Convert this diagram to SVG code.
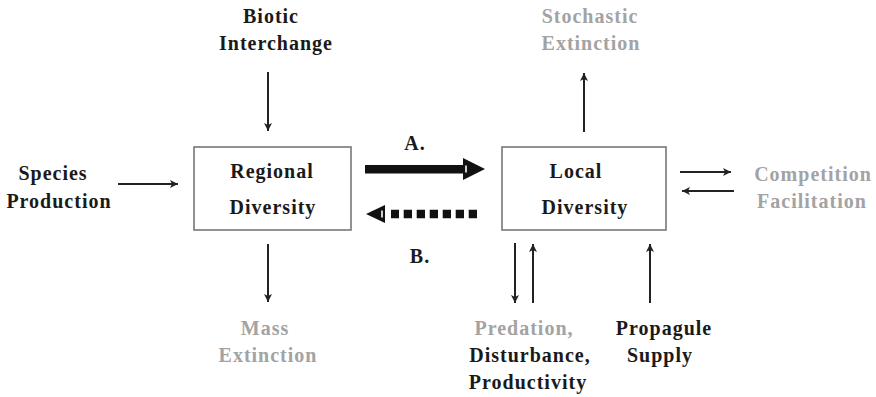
<svg xmlns="http://www.w3.org/2000/svg" width="876" height="397" viewBox="0 0 876 397" font-family="Liberation Serif, serif" font-weight="bold" font-size="20">
  <style>
    .t { letter-spacing: 1px; text-anchor: middle; }
    .dark { fill: #1a1a1a; }
    .pale { fill: #a3a3a3; }
    .box { fill: #ffffff; stroke: #777777; stroke-width: 1.6; }
    .thin { stroke: #222222; stroke-width: 2; fill: none; }
  </style>
  <defs>
    <marker id="head" markerUnits="userSpaceOnUse" markerWidth="10" markerHeight="10" refX="8" refY="4" orient="auto">
      <path d="M0,0 L8,4 L0,8 L2,4 Z" fill="#222222"/>
    </marker>
  </defs>
  <rect width="876" height="397" fill="#ffffff"/>

  <!-- connectors -->
  <g id="connectors">
    <line class="thin" x1="268" y1="72" x2="268" y2="131" marker-end="url(#head)"/>
    <line class="thin" x1="118" y1="184" x2="178" y2="184" marker-end="url(#head)"/>
    <line class="thin" x1="268" y1="244" x2="268" y2="302" marker-end="url(#head)"/>
    <line class="thin" x1="584" y1="132" x2="584" y2="73" marker-end="url(#head)"/>
    <line class="thin" x1="680" y1="172" x2="731" y2="172" marker-end="url(#head)"/>
    <line class="thin" x1="734" y1="191" x2="682" y2="191" marker-end="url(#head)"/>
    <line class="thin" x1="515" y1="243" x2="515" y2="303" marker-end="url(#head)"/>
    <line class="thin" x1="533" y1="303" x2="533" y2="244" marker-end="url(#head)"/>
    <line class="thin" x1="650" y1="303" x2="650" y2="244" marker-end="url(#head)"/>

    <!-- A: regional to local, heavy solid arrow -->
    <g id="arrow-a">
      <rect x="365" y="165" width="98" height="8.5" fill="#111111"/>
      <path d="M463,158 L485,169 L463,180 Z" fill="#111111"/>
      <line x1="466" y1="165.5" x2="466" y2="172.5" stroke="#ffffff" stroke-width="1.6"/>
    </g>
    <!-- B: local to regional, heavy dotted arrow -->
    <g id="arrow-b">
      <line x1="477" y1="214" x2="391" y2="214" stroke="#111111" stroke-width="8.5" stroke-dasharray="8.3 4.7"/>
      <path d="M385,205 L366,214 L385,223 Z" fill="#111111"/>
      <line x1="382" y1="210.5" x2="382" y2="217.5" stroke="#ffffff" stroke-width="1.6"/>
    </g>
  </g>

  <g id="regional">
    <rect class="box" x="194" y="147" width="157" height="83"/>
    <text class="t dark" x="272" y="178">Regional</text>
    <text class="t dark" x="273" y="214">Diversity</text>
  </g>
  <g id="local">
    <rect class="box" x="502" y="147" width="164" height="83"/>
    <text class="t dark" x="576" y="178">Local</text>
    <text class="t dark" x="585" y="214">Diversity</text>
  </g>
  <g id="biotic">
    <text class="t dark" x="271" y="23">Biotic</text>
    <text class="t dark" x="276" y="50">Interchange</text>
  </g>
  <g id="species">
    <text class="t dark" x="53" y="180">Species</text>
    <text class="t dark" x="59" y="208">Production</text>
  </g>
  <g id="mass">
    <text class="t pale" x="265" y="335">Mass</text>
    <text class="t pale" x="268" y="362">Extinction</text>
  </g>
  <g id="stochastic">
    <text class="t pale" x="590" y="23">Stochastic</text>
    <text class="t pale" x="591" y="50">Extinction</text>
  </g>
  <g id="competition">
    <text class="t pale" x="813" y="181">Competition</text>
    <text class="t pale" x="812" y="208">Facilitation</text>
  </g>
  <g id="predation">
    <text class="t pale" x="524" y="335">Predation,</text>
    <text class="t dark" x="530" y="362">Disturbance,</text>
    <text class="t dark" x="528" y="389">Productivity</text>
  </g>
  <g id="propagule">
    <text class="t dark" x="664" y="335">Propagule</text>
    <text class="t dark" x="660" y="362">Supply</text>
  </g>
  <g id="labels">
    <text class="t dark" x="415" y="150">A.</text>
    <text class="t dark" x="420" y="263">B.</text>
  </g>
</svg>
